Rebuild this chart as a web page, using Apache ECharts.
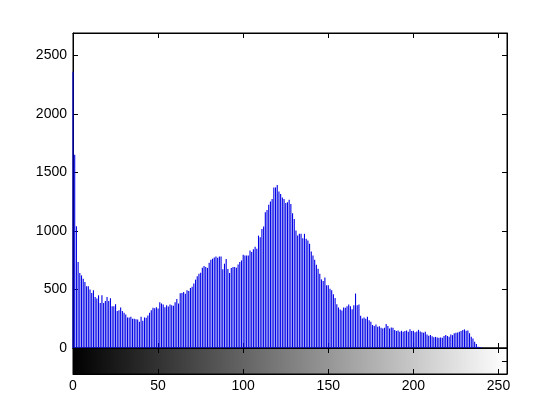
<!DOCTYPE html>
<html>
<head>
<meta charset="utf-8">
<title>imhist</title>
<script src="https://cdn.jsdelivr.net/npm/echarts@6/dist/echarts.min.js"></script>
<style>
  html, body { margin: 0; padding: 0; background: #fff; }
  #chart { width: 560px; height: 420px; }
</style>
</head>
<body>
<div id="chart"></div>
<script>
// gray levels 0..255
const levels = Array.from({ length: 256 }, (_, i) => i)

// pixel counts per gray level
const counts = [
  2360, 1650, 1040, 734, 640, 620, 592, 564, 527, 527,
  499, 470, 493, 436, 422, 450, 385, 450, 385, 402,
  436, 402, 425, 357, 357, 374, 317, 323, 346, 317,
  300, 286, 261, 261, 266, 249, 249, 246, 244, 224,
  266, 232, 261, 258, 278, 300, 323, 343, 340, 348,
  337, 391, 380, 371, 348, 365, 355, 372, 365, 360,
  390, 418, 380, 467, 470, 479, 464, 493, 487, 513,
  524, 550, 584, 612, 635, 642, 686, 700, 691, 684,
  728, 754, 762, 773, 782, 771, 782, 782, 672, 720,
  759, 674, 640, 683, 691, 691, 686, 714, 734, 748,
  796, 790, 790, 790, 833, 819, 844, 864, 847, 960,
  946, 1017, 1037, 1159, 1179, 1224, 1252, 1272, 1371, 1371,
  1391, 1337, 1315, 1286, 1272, 1238, 1244, 1266, 1230, 1150,
  1102, 1003, 960, 975, 975, 938, 975, 932, 918, 890,
  824, 790, 754, 711, 677, 635, 586, 572, 601, 535,
  535, 507, 493, 459, 428, 374, 346, 329, 320, 346,
  343, 357, 371, 357, 330, 366, 465, 366, 371, 275,
  252, 261, 250, 266, 238, 225, 196, 187, 200, 181,
  185, 173, 167, 173, 204, 187, 167, 176, 173, 153,
  145, 150, 139, 147, 139, 145, 150, 139, 160, 145,
  148, 135, 140, 155, 140, 135, 130, 138, 115, 105,
  110, 100, 92, 95, 90, 88, 90, 88, 102, 110,
  102, 96, 116, 110, 125, 130, 133, 139, 145, 153,
  159, 147, 150, 125, 96, 82, 54, 34, 11, 8,
  5, 0, 0, 0, 0, 0, 0, 0, 0, 0,
  0, 0, 0, 0, 0, 0
]

const xTicks = [0, 50, 100, 150, 200, 250]
const yTicks = [0, 500, 1000, 1500, 2000, 2500]

// every axis gets its own fresh style objects
function axis(extra) {
  return Object.assign({
    type: 'value',
    axisLine: { show: true, onZero: false, lineStyle: { color: '#000', width: 1 } },
    axisTick: { show: true, inside: true, length: 5, lineStyle: { color: '#000', width: 1 } },
    axisLabel: { show: false },
    splitLine: { show: false }
  }, extra)
}

function label(margin, list) {
  return {
    show: true,
    inside: false,
    margin: margin,
    fontFamily: 'Liberation Sans, Arial, sans-serif',
    fontSize: 14,
    color: '#000',
    formatter: v => list.includes(v) ? String(v) : ''
  }
}

const chart = echarts.init(document.getElementById('chart'))

chart.setOption({
  animation: false,
  backgroundColor: '#fff',
  grid: [
    { left: 73, top: 33, width: 434, height: 315, show: true, borderColor: '#000', borderWidth: 1, backgroundColor: '#fff' },
    {
      left: 73, top: 348, width: 434, height: 26, show: true, borderColor: '#000', borderWidth: 1,
      backgroundColor: new echarts.graphic.LinearGradient(0, 0, 1, 0, [
        { offset: 0, color: '#000' },
        { offset: 1, color: '#fff' }
      ])
    }
  ],
  xAxis: [
    axis({ gridIndex: 0, position: 'bottom', min: 0, max: 255, interval: 50 }),
    axis({ gridIndex: 0, position: 'top', min: 0, max: 255, interval: 50 }),
    axis({ gridIndex: 1, position: 'bottom', min: 0, max: 255, interval: 50, axisLabel: label(5, xTicks) }),
    axis({ gridIndex: 1, position: 'top', min: 0, max: 255, interval: 50 })
  ],
  yAxis: [
    axis({ gridIndex: 0, position: 'left', min: 0, max: 2690, interval: 500, axisLabel: label(6, yTicks) }),
    axis({ gridIndex: 0, position: 'right', min: 0, max: 2690, interval: 500 }),
    axis({ gridIndex: 1, position: 'left', min: 0, max: 2, interval: 1 }),
    axis({ gridIndex: 1, position: 'right', min: 0, max: 2, interval: 1 })
  ],
  series: [{
    type: 'bar',
    xAxisIndex: 0,
    yAxisIndex: 0,
    silent: true,
    barWidth: 1.1,
    itemStyle: { color: '#0000e6' },
    data: levels.map(i => [i, counts[i]])
  }]
})
</script>
</body>
</html>
